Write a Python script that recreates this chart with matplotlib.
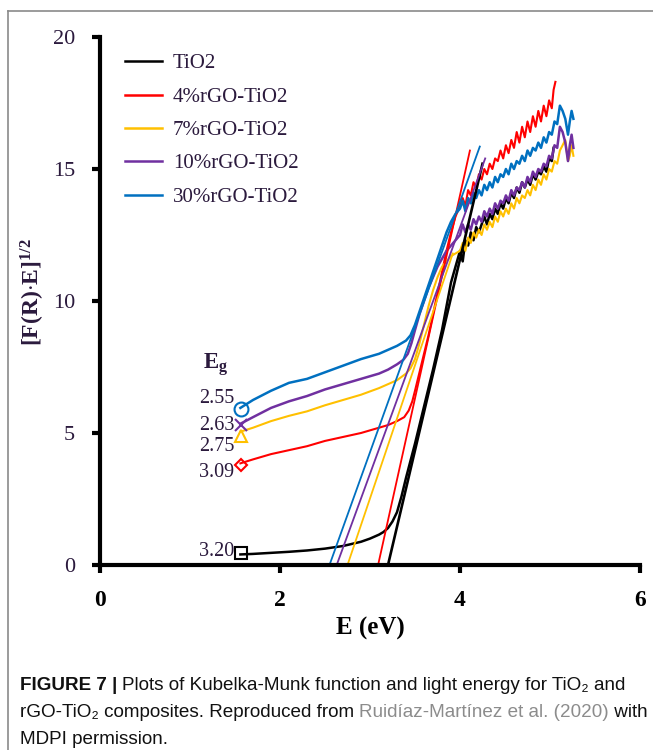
import matplotlib
matplotlib.use("Agg")
import matplotlib.pyplot as plt
from matplotlib.transforms import IdentityTransform
from matplotlib.lines import Line2D

plt.rcParams['mathtext.fontset'] = 'custom'
plt.rcParams['mathtext.rm'] = 'Liberation Serif'
plt.rcParams['mathtext.it'] = 'Liberation Serif:italic'
plt.rcParams['mathtext.bf'] = 'Liberation Serif:bold'

# ---------------- data ----------------
series_names = ["TiO2", "4%rGO-TiO2", "7%rGO-TiO2", "10%rGO-TiO2", "30%rGO-TiO2"]
series_colors = ["#000000", "#ff0000", "#ffc000", "#7030a0", "#0070c0"]

tio2_E = [1.56, 1.7, 1.9, 2.1, 2.3, 2.5, 2.7, 2.9, 3.0, 3.1, 3.15, 3.2, 3.25, 3.3, 3.35, 3.4,
          3.5, 3.6, 3.7, 3.8, 3.85, 3.9, 3.95,
          4.00, 4.03, 4.06, 4.09, 4.12, 4.15, 4.18, 4.21, 4.24, 4.27, 4.30, 4.33, 4.36, 4.39,
          4.42, 4.45, 4.48, 4.51, 4.54, 4.57, 4.60, 4.63, 4.66, 4.69, 4.72, 4.75, 4.78, 4.81,
          4.84, 4.87, 4.90, 4.93, 4.96, 4.99, 5.02, 5.04]
tio2_F = [0.40, 0.42, 0.46, 0.50, 0.55, 0.62, 0.72, 0.88, 1.0, 1.15, 1.25, 1.4, 1.65, 2.0, 2.6, 3.3,
          4.6, 6.0, 7.4, 8.9, 9.8, 10.7, 11.3,
          11.9, 11.5, 12.3, 12.1, 12.6, 12.3, 12.8, 12.6, 12.9, 13.2, 12.9, 13.3, 13.1, 13.5,
          13.3, 13.7, 13.5, 13.9, 13.7, 14.1, 13.9, 14.3, 14.1, 14.5, 14.3, 14.6, 14.4, 14.8,
          14.6, 14.9, 14.8, 15.1, 14.9, 15.4, 15.3, 15.8]

rgo4_E = [1.56, 1.7, 1.9, 2.1, 2.3, 2.5, 2.7, 2.9, 3.1, 3.2, 3.3, 3.38, 3.43, 3.47,
          3.5, 3.55, 3.6, 3.65, 3.7, 3.75, 3.8, 3.85, 3.9, 3.95,
          4.00, 4.03, 4.06, 4.09, 4.12, 4.15, 4.18, 4.21, 4.24, 4.27, 4.30, 4.33, 4.36, 4.39,
          4.42, 4.45, 4.48, 4.51, 4.54, 4.57, 4.60, 4.63, 4.66, 4.69, 4.72, 4.75, 4.78, 4.81,
          4.84, 4.87, 4.90, 4.93, 4.96, 4.99, 5.02, 5.04, 5.06]
rgo4_F = [3.85, 4.0, 4.2, 4.35, 4.5, 4.7, 4.85, 5.0, 5.2, 5.3, 5.45, 5.6, 5.85, 6.2,
          6.6, 7.3, 8.0, 8.7, 9.5, 10.3, 11.1, 11.9, 12.6, 13.2,
          13.6, 13.9, 13.6, 14.2, 14.0, 14.5, 14.3, 14.8, 14.6, 15.0, 14.8, 15.2, 15.0, 15.4,
          15.3, 15.7, 15.4, 15.9, 15.6, 16.1, 15.8, 16.4, 16.0, 16.6, 16.2, 16.8, 16.4, 17.0,
          16.6, 17.2, 16.8, 17.4, 17.0, 17.6, 17.3, 18.0, 18.3]

rgo7_E = [1.56, 1.7, 1.9, 2.1, 2.3, 2.5, 2.7, 2.9, 3.1, 3.2, 3.3, 3.4, 3.45, 3.5, 3.55,
          3.6, 3.65, 3.7, 3.75, 3.8, 3.85, 3.9, 3.95,
          4.00, 4.03, 4.06, 4.09, 4.12, 4.15, 4.18, 4.21, 4.24, 4.27, 4.30, 4.33, 4.36, 4.39,
          4.42, 4.45, 4.48, 4.51, 4.54, 4.57, 4.60, 4.63, 4.66, 4.69, 4.72, 4.75, 4.78, 4.81,
          4.84, 4.87, 4.90, 4.93, 4.96, 4.99, 5.02, 5.05, 5.08, 5.11, 5.14, 5.17, 5.20, 5.22,
          5.24, 5.26]
rgo7_F = [5.05, 5.2, 5.45, 5.65, 5.82, 6.05, 6.25, 6.45, 6.7, 6.85, 7.0, 7.25, 7.45, 7.8, 8.4,
          9.1, 9.8, 10.4, 10.9, 11.3, 11.5, 11.7, 11.8,
          11.9, 12.2, 11.9, 12.4, 12.2, 12.6, 12.4, 12.7, 12.5, 12.9, 12.7, 13.0, 12.8, 13.2,
          13.0, 13.4, 13.2, 13.5, 13.3, 13.7, 13.5, 13.9, 13.7, 14.0, 13.9, 14.2, 14.0, 14.4,
          14.2, 14.6, 14.4, 14.8, 14.6, 15.0, 14.9, 15.3, 15.2, 15.7, 15.9, 16.1, 15.3, 15.5,
          15.9, 15.5]

rgo10_E = [1.56, 1.7, 1.9, 2.1, 2.3, 2.5, 2.7, 2.9, 3.1, 3.2, 3.3, 3.37, 3.42, 3.46, 3.5,
           3.55, 3.6, 3.65, 3.7, 3.75, 3.8, 3.85, 3.9, 3.95,
           4.00, 4.03, 4.06, 4.09, 4.12, 4.15, 4.18, 4.21, 4.24, 4.27, 4.30, 4.33, 4.36, 4.39,
           4.42, 4.45, 4.48, 4.51, 4.54, 4.57, 4.60, 4.63, 4.66, 4.69, 4.72, 4.75, 4.78, 4.81,
           4.84, 4.87, 4.90, 4.93, 4.96, 4.99, 5.02, 5.05, 5.08, 5.11, 5.14, 5.17, 5.20, 5.22,
           5.24, 5.26]
rgo10_F = [5.35, 5.6, 5.95, 6.2, 6.4, 6.65, 6.85, 7.05, 7.25, 7.4, 7.6, 7.77, 8.0, 8.4, 8.9,
           9.5, 10.0, 10.5, 10.9, 11.3, 11.6, 11.9, 12.1, 12.3,
           12.5, 12.9, 12.6, 12.9, 12.7, 13.1, 12.9, 13.2, 13.0, 13.4, 13.2, 13.5, 13.3, 13.7,
           13.5, 13.8, 13.7, 14.0, 13.8, 14.2, 14.0, 14.3, 14.2, 14.5, 14.3, 14.7, 14.5, 14.9,
           14.7, 15.0, 14.9, 15.2, 15.1, 15.5, 15.4, 15.9, 15.8, 16.6, 16.4, 16.0, 15.3, 15.9,
           16.3, 15.8]

rgo30_E = [1.56, 1.7, 1.9, 2.1, 2.3, 2.5, 2.7, 2.9, 3.1, 3.2, 3.3, 3.4, 3.45, 3.5, 3.55,
           3.6, 3.65, 3.7, 3.75, 3.8, 3.85, 3.9, 3.95,
           4.00, 4.03, 4.06, 4.09, 4.12, 4.15, 4.18, 4.21, 4.24, 4.27, 4.30, 4.33, 4.36, 4.39,
           4.42, 4.45, 4.48, 4.51, 4.54, 4.57, 4.60, 4.63, 4.66, 4.69, 4.72, 4.75, 4.78, 4.81,
           4.84, 4.87, 4.90, 4.93, 4.96, 4.99, 5.02, 5.05, 5.08, 5.11, 5.14, 5.17, 5.20, 5.22,
           5.24, 5.26]
rgo30_F = [5.95, 6.25, 6.6, 6.9, 7.05, 7.3, 7.55, 7.8, 8.0, 8.15, 8.3, 8.5, 8.7, 9.1, 9.6,
           10.1, 10.6, 11.1, 11.6, 12.1, 12.6, 13.0, 13.3,
           13.5, 13.8, 13.4, 13.9, 13.7, 14.1, 13.9, 14.2, 14.0, 14.4, 14.2, 14.5, 14.3, 14.7,
           14.5, 14.8, 14.7, 15.0, 14.8, 15.2, 15.0, 15.3, 15.2, 15.5, 15.3, 15.7, 15.5, 15.8,
           15.7, 16.0, 15.8, 16.2, 16.0, 16.4, 16.3, 16.8, 16.7, 17.4, 17.2, 16.9, 16.3, 16.8,
           17.2, 16.9]

# tangent lines: x-intercept (band gap) and upper end point
eg_values = [3.20, 3.09, 2.75, 2.63, 2.55]
eg_labels = ["3.20", "3.09", "2.75", "2.63", "2.55"]
tangent_top_E = [4.25, 4.11, 3.92, 4.28, 4.22]
tangent_top_F = [15.2, 15.7, 11.8, 15.4, 15.85]

# start markers
marker_E = 1.57
marker_F = [0.45, 3.8, 4.9, 5.3, 5.9]
marker_styles = ["s", "D", "^", "x", "o"]
label_F = [0.5, 3.5, 4.5, 5.3, 6.3]

x_ticks = [0, 2, 4, 6]
y_ticks = [0, 5, 10, 15, 20]

all_E = [tio2_E, rgo4_E, rgo7_E, rgo10_E, rgo30_E]
all_F = [tio2_F, rgo4_F, rgo7_F, rgo10_F, rgo30_F]

# ---------------- figure ----------------
W, H = 653, 750
fig = plt.figure(figsize=(W / 100, H / 100), dpi=100)
txtc = "#2b1a3d"
serif = ["Liberation Serif", "DejaVu Serif"]

# gray frame
fig.add_artist(Line2D([7.5 / W, 7.5 / W], [0, 1 - 10.5 / H], transform=fig.transFigure,
                      color="#8a8a8a", lw=1.2))
fig.add_artist(Line2D([7.5 / W, 1], [1 - 10.5 / H, 1 - 10.5 / H], transform=fig.transFigure,
                      color="#8a8a8a", lw=1.2))

ax = fig.add_axes([100 / W, 1 - 565 / H, 540 / W, 528 / H])
ax.set_xlim(0, 6)
ax.set_ylim(0, 20)
for s in ["top", "right"]:
    ax.spines[s].set_visible(False)
for s in ["left", "bottom"]:
    ax.spines[s].set_linewidth(3.0)
    ax.spines[s].set_color("black")
    ax.spines[s].set_zorder(5)

lws = [1.8, 1.5, 1.5, 1.8, 1.8]
for i in range(5):
    ax.plot(all_E[i], all_F[i], color=series_colors[i], lw=lws[i], label=series_names[i],
            solid_joinstyle="round", zorder=3)
for i in range(5):
    ax.plot([eg_values[i], tangent_top_E[i]], [0, tangent_top_F[i]], color=series_colors[i],
            lw=1.9 if i == 0 else 1.3, zorder=4)
msz = [8, 6, 8, 9, 10]
for i in range(5):
    ax.plot([marker_E], [marker_F[i]], marker=marker_styles[i], ms=msz[i],
            mfc="none", mec=series_colors[i], mew=1.5, ls="none", zorder=4)
    ax.text(1.49, label_F[i], eg_labels[i], ha="right", va="center", fontsize=14.5,
            family=serif, color=txtc)
ax.text(1.28, 7.6, r"E$_\mathbf{g}$", ha="center", va="center", fontsize=16.5,
        family=serif, fontweight="bold", color=txtc)

ax.set_xticks(x_ticks)
ax.set_yticks(y_ticks)
ax.tick_params(axis="both", direction="out", length=6, width=3.0, color="black")
ax.tick_params(axis="y", pad=12)
ax.tick_params(axis="x", pad=12)
for lab in ax.get_yticklabels():
    lab.set_fontfamily(serif)
    lab.set_fontsize(16)
    lab.set_color(txtc)
for lab in ax.get_xticklabels():
    lab.set_fontfamily(serif)
    lab.set_fontsize(17)
    lab.set_fontweight("bold")
    lab.set_color("black")

ax.set_xlabel("E (eV)", fontsize=18, fontweight="bold", family=serif, color="black",
              labelpad=4)
fig.text(33 / W, 1 - 292 / H, r"[F(R)$\cdot$E]$^{\mathbf{1/2}}$", rotation=90, ha="center",
         va="center", fontsize=17, fontweight="bold", family=serif, color=txtc)

leg = ax.legend(loc="upper left", bbox_to_anchor=(0.046, 0.968), frameon=False,
                borderaxespad=0, borderpad=0, handlelength=1.8, handletextpad=0.5,
                labelspacing=0.66, prop={"family": serif, "size": 15})
for t in leg.get_texts():
    t.set_color(txtc)
for h in leg.get_lines():
    h.set_linewidth(1.8)

# ---------------- caption ----------------
cap_family = ["Liberation Sans Narrow", "Liberation Sans", "DejaVu Sans"]
cap_size = 13.6
fig.canvas.draw()
renderer = fig.canvas.get_renderer()


def draw_line(pieces, x0, y_top):
    x = x0
    y = H - y_top
    for s, w, c in pieces:
        t = fig.text(x, y, s, fontweight=w, color=c, fontsize=cap_size, family=cap_family,
                     va="baseline", ha="left", transform=IdentityTransform())
        bb = t.get_window_extent(renderer)
        x = bb.x1


draw_line([("FIGURE 7 | ", "bold", "#111111"),
           ("Plots of Kubelka-Munk function and light energy for TiO\u2082 and", "normal", "#111111")],
          20, 690)
draw_line([("rGO-TiO\u2082 composites. Reproduced from ", "normal", "#111111"),
           ("Ruidíaz-Martínez et al. (2020)", "normal", "#8c8c8c"),
           (" with", "normal", "#111111")], 20, 717)
draw_line([("MDPI permission.", "normal", "#111111")], 20, 744)

fig.savefig("out.png", dpi=100)
